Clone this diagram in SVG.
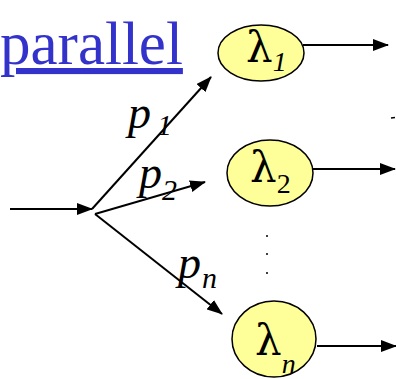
<svg xmlns="http://www.w3.org/2000/svg" width="396" height="379" viewBox="0 0 396 379">
<style>
.node ellipse{fill:#ffff99;stroke:#000;stroke-width:1.5}
.lam{font-family:"DejaVu Serif","Liberation Serif",serif;font-size:42px;fill:#000}
.sub{font-family:"Liberation Serif","Times New Roman",serif;font-size:28px}
.lbl{font-family:"Liberation Serif","Times New Roman",serif;font-size:46px;font-style:italic;fill:#000}
.lsub{font-size:30px}
.conn line{stroke:#000;stroke-width:2;marker-end:url(#ah)}
</style>
<defs>
<marker id="ah" markerUnits="userSpaceOnUse" markerWidth="16" markerHeight="12" refX="15" refY="6" orient="auto" viewBox="0 0 16 12">
<path d="M0,0 L16,6 L0,12 z" fill="#000"/>
</marker>
</defs>
<text x="0" y="64" font-family="Liberation Serif,'Times New Roman',serif" font-size="61" fill="#3333cc" text-decoration="underline">parallel</text>
<g id="node-l1" class="node">
<ellipse cx="261" cy="53" rx="43" ry="28"/>
<text class="lam" x="246" y="62">λ<tspan class="sub" font-style="italic" dy="9">1</tspan></text>
</g>
<g id="node-l2" class="node">
<ellipse cx="270" cy="173" rx="43" ry="33"/>
<text class="lam" x="250" y="182">λ<tspan class="sub" dy="11">2</tspan></text>
</g>
<g id="node-ln" class="node">
<ellipse cx="274" cy="339" rx="42" ry="38"/>
<text class="lam" x="255" y="355">λ<tspan class="sub" font-style="italic" dy="18">n</tspan></text>
</g>
<g id="connectors" class="conn">
<line x1="10" y1="209" x2="92" y2="209"/>
<line x1="92" y1="209" x2="211" y2="77"/>
<line x1="95" y1="214" x2="205" y2="182"/>
<line x1="95" y1="214" x2="222" y2="314"/>
<line x1="303" y1="45" x2="388" y2="45"/>
<line x1="313" y1="169" x2="395" y2="169"/>
<line x1="317" y1="346" x2="396" y2="346"/>
</g>
<g id="labels">
<text class="lbl" x="128" y="128">p<tspan class="lsub" dx="6" dy="7">1</tspan></text>
<text class="lbl" x="139" y="188">p<tspan class="lsub" dx="0" dy="12">2</tspan></text>
<text class="lbl" x="178" y="278">p<tspan class="lsub" dx="1" dy="10">n</tspan></text>
</g>
<g id="dots" fill="#000">
<circle cx="267" cy="236" r="1"/>
<circle cx="267" cy="254" r="1"/>
<circle cx="267" cy="273" r="1"/>
</g>
<line x1="391" y1="118" x2="395" y2="117.5" stroke="#000" stroke-width="1.5"/>
</svg>
